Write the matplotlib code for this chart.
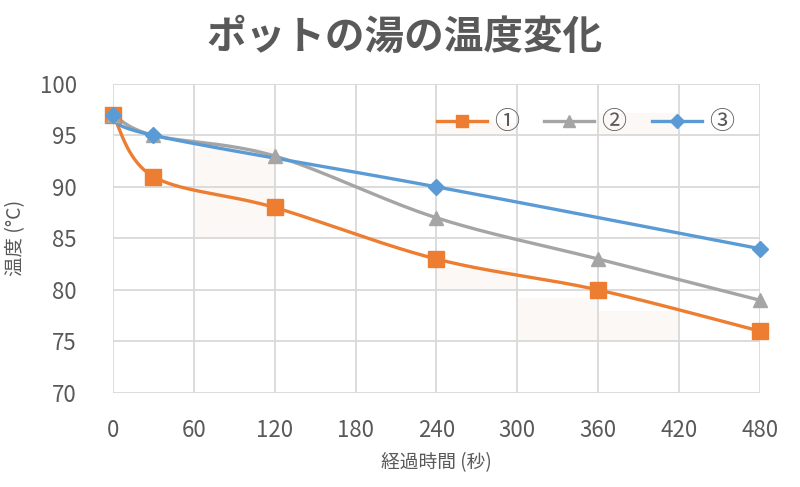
import numpy as np
import matplotlib
matplotlib.use('Agg')
import matplotlib.pyplot as plt

plt.rcParams['font.family'] = ['Noto Sans CJK JP', 'DejaVu Sans']

# Data
t1 = [0, 30, 120, 240, 360, 480]
temp1 = [97, 91, 88, 83, 80, 76]
t2 = [0, 30, 120, 240, 360, 480]
temp2 = [97, 95, 93, 87, 83, 79]
t3 = [0, 30, 240, 480]
temp3 = [97, 95, 90, 84]
labels = ['①', '②', '③']
colors = ['#ED7D31', '#A5A5A5', '#5B9BD5']
markers = ['s', '^', 'D']

# faint background bands seen in the original
shade_x0 = [60, 240, 300, 360, 240, 360]
shade_x1 = [120, 300, 360, 420, 300, 420]
shade_lo = [85, 80, 75, 75, 95, 95]
shade_hi = [93.8, 82.1, 79.2, 78.0, 96.2, 97.2]

xticks = np.arange(0, 481, 60)
yticks = np.arange(70, 101, 5)
txt = '#595959'


def smooth(x, y, n=40):
    """Excel-like smoothed line (Catmull-Rom bezier)"""
    x = np.asarray(x, float)
    y = np.asarray(y, float)
    px = np.concatenate([[x[0]], x, [x[-1]]])
    py = np.concatenate([[y[0]], y, [y[-1]]])
    outx, outy = [], []
    s = np.linspace(0, 1, n)
    for i in range(1, len(px) - 2):
        p0 = np.array([px[i], py[i]])
        p3 = np.array([px[i + 1], py[i + 1]])
        c1 = p0 + (np.array([px[i + 1], py[i + 1]]) - np.array([px[i - 1], py[i - 1]])) / 6
        c2 = p3 - (np.array([px[i + 2], py[i + 2]]) - np.array([px[i], py[i]])) / 6
        b = ((1 - s) ** 3)[:, None] * p0 + (3 * (1 - s) ** 2 * s)[:, None] * c1 \
            + (3 * (1 - s) * s ** 2)[:, None] * c2 + (s ** 3)[:, None] * p3
        outx.extend(b[:, 0])
        outy.extend(b[:, 1])
    return outx, outy


fig = plt.figure(figsize=(8, 4.87), dpi=100)
ax = fig.add_axes([0.141, 0.193, 0.809, 0.635])

for a, b, lo, hi in zip(shade_x0, shade_x1, shade_lo, shade_hi):
    ax.fill_between([a, b], lo, hi, color='#FBF8F6', lw=0, zorder=0)

series = [(t1, temp1), (t2, temp2), (t3, temp3)]
msize = [11, 10.5, 8.5]
lsize = [9, 8.5, 7]
for (x, y), lab, c, m, ms, ls in zip(series, labels, colors, markers, msize, lsize):
    sx, sy = smooth(x, y)
    ax.plot(sx, sy, color=c, lw=2.4, zorder=3, solid_capstyle='round', clip_on=False)
    ax.plot(x, y, ls='none', marker=m, ms=ms, color=c, zorder=4, clip_on=False)
    ax.plot([], [], color=c, lw=2.4, marker=m, ms=ls, label=lab)

ax.set_xlim(0, 480)
ax.set_ylim(70, 100)
ax.set_xticks(xticks)
ax.set_yticks(yticks)
ax.grid(True, color='#D9D9D9', lw=1.3, zorder=1)
ax.set_axisbelow(True)
for sp in ax.spines.values():
    sp.set_visible(False)
ax.tick_params(length=0, labelsize=16, labelcolor=txt)
ax.tick_params(axis='y', pad=26)
ax.tick_params(axis='x', pad=19)

ax.set_xlabel('経過時間 (秒)', fontsize=13.5, color=txt, labelpad=7)
ax.set_ylabel('温度 (°C)', fontsize=14, color=txt, labelpad=10)
fig.text(0.506, 0.922, 'ポットの湯の温度変化', ha='center', va='center',
         fontsize=28.5, fontweight='bold', color=txt)

ax.legend(loc='center', bbox_to_anchor=(0.73, 0.875), ncol=3, frameon=False,
          fontsize=18, handlelength=2.0, columnspacing=1.0, handletextpad=0.3,
          labelcolor=txt)

fig.savefig('out.png', dpi=100)
